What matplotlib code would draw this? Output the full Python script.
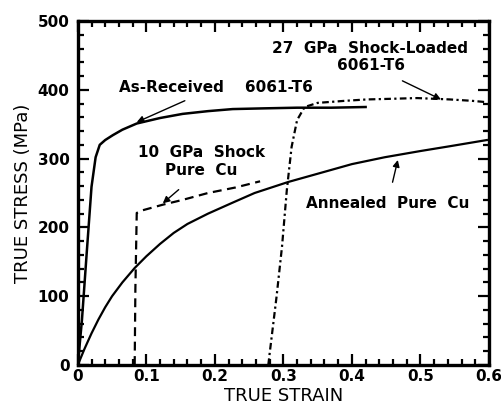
import matplotlib.pyplot as plt
from matplotlib.ticker import MultipleLocator

# As-received 6061-T6 (solid)
ar_strain = [0.0, 0.006, 0.013, 0.020, 0.026, 0.032, 0.040, 0.051, 0.065, 0.086, 0.12,
             0.153, 0.19, 0.226, 0.27, 0.32, 0.37, 0.42]
ar_stress = [0, 65, 163, 259, 302, 320, 327, 334, 342, 351, 359,
             365, 369, 372, 373, 374, 374, 375]

# 27 GPa shock-loaded 6061-T6 (dash-dot)
sl_strain = [0.278, 0.280, 0.290, 0.298, 0.305, 0.312, 0.320, 0.331, 0.350, 0.39, 0.422,
             0.46, 0.495, 0.543, 0.575, 0.597]
sl_stress = [0, 17, 99, 172, 254, 317, 356, 375, 381, 384, 386,
             387, 388, 386, 384, 382]

# 10 GPa shock pure Cu (dashed)
sc_strain = [0.083, 0.084, 0.086, 0.095, 0.124, 0.153, 0.19, 0.23, 0.266]
sc_stress = [0, 110, 221, 225, 233, 240, 250, 258, 267]

# Annealed pure Cu (solid)
an_strain = [0.0, 0.01, 0.02, 0.03, 0.04, 0.05, 0.065, 0.083, 0.10, 0.12, 0.14, 0.16,
             0.19, 0.226, 0.258, 0.307, 0.35, 0.40, 0.448, 0.50, 0.543, 0.597]
an_stress = [0, 24, 46, 66, 84, 100, 120, 141, 158, 176, 192, 205,
             220, 236, 250, 266, 278, 292, 302, 311, 318, 327]

fig = plt.figure(figsize=(5.02, 4.08), dpi=100)
ax = fig.add_axes([0.155, 0.1054, 0.819, 0.8431])

ax.plot(ar_strain, ar_stress, color='black', lw=1.8)
ax.plot(an_strain, an_stress, color='black', lw=1.6)
ax.plot(sc_strain, sc_stress, color='black', lw=1.6, linestyle=(0, (4, 2.5)))
ax.plot(sl_strain, sl_stress, color='black', lw=1.6, linestyle=(0, (3, 1.5, 1, 1.5)))

ax.set_xlim(0, 0.6)
ax.set_ylim(0, 500)
ax.xaxis.set_major_locator(MultipleLocator(0.1))
ax.xaxis.set_minor_locator(MultipleLocator(0.02))
ax.yaxis.set_major_locator(MultipleLocator(100))
ax.yaxis.set_minor_locator(MultipleLocator(20))
ax.set_xticks([0, 0.1, 0.2, 0.3, 0.4, 0.5, 0.6])
ax.set_xticklabels(['0', '0.1', '0.2', '0.3', '0.4', '0.5', '0.6'])

for s in ax.spines.values():
    s.set_linewidth(2.4)
ax.tick_params(which='both', direction='in', top=True, right=True, width=1.6,
               labelsize=11)
ax.tick_params(axis='y', pad=6)
ax.tick_params(axis='x', pad=3)
ax.tick_params(which='major', length=8)
ax.tick_params(which='minor', length=4.5)
for lab in ax.get_xticklabels() + ax.get_yticklabels():
    lab.set_fontweight('bold')

ax.set_xlabel('TRUE STRAIN', fontsize=13, labelpad=2)
ax.set_ylabel('TRUE STRESS (MPa)', fontsize=13, labelpad=4)

tkw = dict(fontsize=11, fontweight='bold', ha='center', va='center')
akw = dict(arrowstyle='-|>', color='black', lw=1.0, mutation_scale=10)

ax.annotate('As-Received    6061-T6', xy=(0.086, 353), xytext=(0.201, 404),
            arrowprops=dict(akw, shrinkA=6, shrinkB=0), **tkw)
ax.text(0.427, 460, '27  GPa  Shock-Loaded', **tkw)
ax.annotate('6061-T6', xy=(0.53, 386), xytext=(0.428, 435),
            arrowprops=dict(akw, shrinkA=8, shrinkB=0), **tkw)
ax.text(0.18, 309, '10  GPa  Shock', **tkw)
ax.annotate('Pure  Cu', xy=(0.124, 235), xytext=(0.18, 283),
            arrowprops=dict(akw, shrinkA=10, shrinkB=0), **tkw)
ax.annotate('Annealed  Pure  Cu', xy=(0.467, 298), xytext=(0.452, 235),
            arrowprops=dict(akw, shrinkA=8, shrinkB=0), **tkw)

fig.savefig('out.png', dpi=100)
